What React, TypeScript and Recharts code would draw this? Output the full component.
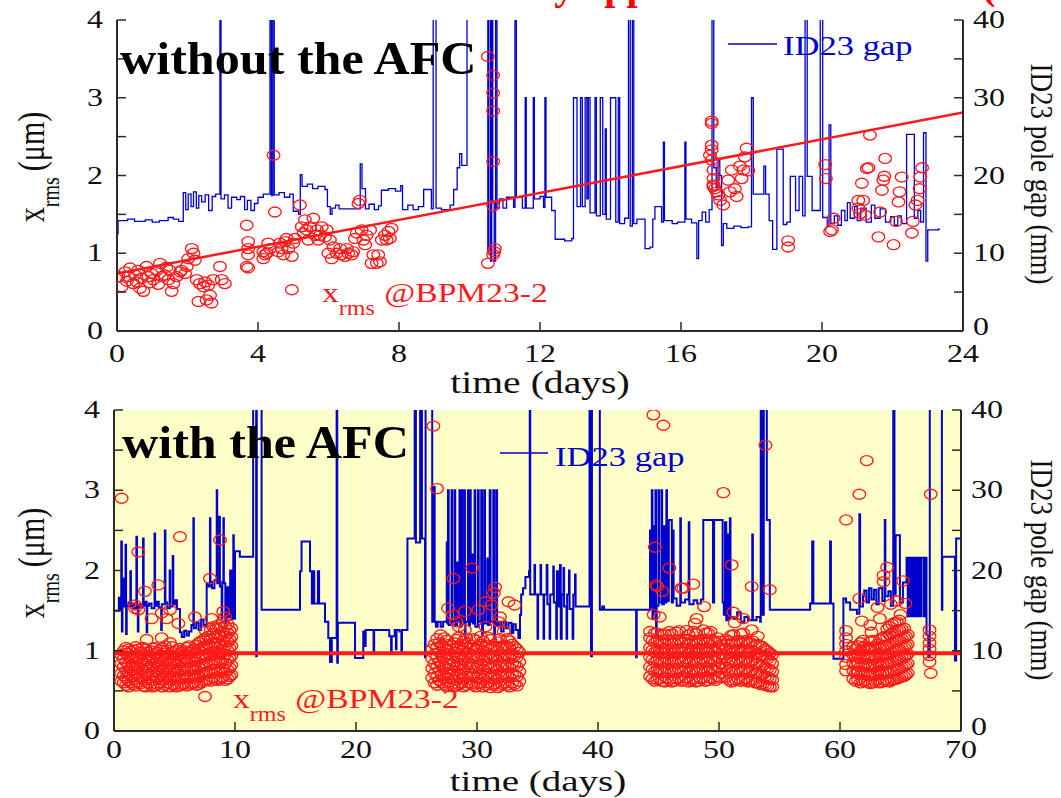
import React from 'react';
import { ComposedChart, Line, Scatter, XAxis, YAxis, CartesianGrid } from 'recharts';

const FONT = "'Liberation Serif', 'Times New Roman', serif";
const AXIS = '#2b2b2b';
const BLUE = '#0000cd';
const RED = '#ff1a1a';

// ---------- axis ticks ----------
const topXTicks = [0, 4, 8, 12, 16, 20, 24];
const bottomXTicks = [0, 10, 20, 30, 40, 50, 60, 70];
const leftTicks = [0, 0.5, 1, 1.5, 2, 2.5, 3, 3.5, 4];
const rightTicks = [0, 5, 10, 15, 20, 25, 30, 35, 40];

// ---------- top panel (without AFC), days 0..24 ----------
// ID23 gap (mm), step changes [day, gap]
const topGapSteps: [number, number][] = [
  [0, 12.5], [0.03, 14.2], [0.3, 14.4], [0.5, 14.1], [0.8, 14.3], [1.0, 14.0], [1.2, 14.2], [1.45, 14.6], [1.6, 14.4], [1.75, 14.1],
  [1.88, 17.8], [1.95, 15.6], [2.02, 17.6], [2.1, 16.0], [2.17, 17.9], [2.25, 15.8], [2.32, 17.4], [2.4, 16.6], [2.5, 17.5], [2.6, 15.5],
  [2.7, 17.3], [2.8, 17.6], [2.92, 45], [2.95, 17.0], [3.05, 17.5], [3.15, 15.8], [3.25, 17.2], [3.4, 16.9], [3.5, 17.3], [3.62, 15.6],
  [3.7, 16.8], [3.8, 15.5], [3.9, 16.4], [4.0, 17.2], [4.15, 17.6], [4.34, 45], [4.38, 17.4], [4.42, 45], [4.46, 17.5], [4.6, 17.8],
  [4.75, 17.2], [4.9, 17.6], [5.0, 15.4], [5.15, 15.0], [5.2, 20.1], [5.25, 18.6], [5.4, 18.9], [5.55, 18.3], [5.7, 18.6], [5.9, 18.2],
  [5.97, 16.0], [6.05, 15.0], [6.1, 15.8], [6.2, 16.2], [6.3, 15.7], [6.85, 15.7], [6.9, 21.5], [6.95, 18.3], [7.05, 15.7], [7.15, 16.3],
  [7.3, 15.6], [7.42, 16.1], [7.5, 18.1], [7.7, 18.3], [7.9, 18.0], [8.05, 18.7], [8.1, 15.6], [8.25, 16.2], [8.4, 15.6], [8.55, 16.0],
  [8.7, 18.2], [8.92, 15.7], [8.97, 45], [9.05, 15.8], [9.2, 15.6], [9.45, 16.2], [9.55, 18.2], [9.65, 21.0], [9.72, 22.8], [9.78, 21.3],
  [9.93, 45], [10.52, 10.0], [10.55, 45], [10.6, 9.0], [10.63, 45], [10.66, 16.5], [10.7, 9.0], [10.74, 45], [10.78, 15.8], [10.85, 17.0],
  [10.95, 15.8], [11.05, 17.2], [11.25, 15.9], [11.29, 45], [11.33, 17.2], [11.5, 15.8], [11.58, 30], [11.61, 15.8], [11.81, 30], [11.84, 17.0],
  [12.0, 17.3], [12.1, 15.9], [12.14, 30], [12.17, 17.2], [12.33, 15.5], [12.43, 11.8], [12.7, 11.6], [12.9, 11.9], [12.95, 30], [13.05, 16.0],
  [13.15, 30], [13.2, 16.0], [13.28, 30], [13.33, 17.0], [13.37, 30], [13.42, 15.2], [13.56, 30], [13.6, 14.8], [13.71, 30], [13.78, 15.0],
  [13.85, 26], [13.88, 14.4], [14.0, 30], [14.15, 14.0], [14.22, 30], [14.26, 13.8], [14.4, 14.5], [14.51, 45], [14.56, 13.5], [14.62, 45],
  [14.66, 13.8], [14.75, 14.4], [14.98, 10.6], [15.12, 10.8], [15.2, 14.4], [15.26, 16.0], [15.35, 16.0], [15.45, 14.0], [15.5, 24.3], [15.53, 14.2],
  [15.75, 13.8], [15.9, 14.0], [16.11, 24.3], [16.14, 14.4], [16.3, 13.9], [16.45, 9.3], [16.5, 14.2], [16.6, 15.3], [16.7, 14.0], [16.8, 15.6],
  [16.88, 45], [16.93, 21.0], [17.0, 18.5], [17.05, 22.0], [17.1, 20.0], [17.15, 11.0], [17.2, 13.8], [17.3, 13.2], [17.5, 13.5], [17.7, 13.3],
  [17.9, 13.4], [18.0, 30], [18.05, 17.6], [18.3, 17.6], [18.35, 21.2], [18.4, 17.6], [18.5, 14.2], [18.6, 10.5], [18.72, 23.4], [18.9, 13.7],
  [19.0, 14.0], [19.1, 19.9], [19.25, 15.5], [19.35, 19.9], [19.45, 14.8], [19.52, 45], [19.58, 19.9], [19.72, 15.5], [19.95, 45], [20.02, 14.6],
  [20.15, 13.5], [20.2, 26.5], [20.25, 13.8], [20.35, 14.8], [20.45, 13.6], [20.55, 15.5], [20.65, 14.2], [20.72, 16.5], [20.8, 14.5], [20.92, 16.0],
  [21.0, 14.2], [21.1, 15.8], [21.25, 14.0], [21.4, 16.2], [21.5, 14.5], [21.65, 15.7], [21.8, 14.0], [21.95, 14.7], [22.05, 13.6], [22.15, 14.8],
  [22.25, 13.8], [22.4, 25.3], [22.62, 14.5], [22.72, 15.5], [22.8, 14.0], [22.88, 25.5], [22.95, 9.0], [23.0, 13.0], [23.3, 13.1], [23.35, 13.1],
];

// x_rms @BPM23-2 (um) without AFC [day, value]
const topRms: [number, number][] = [
  [0.04, 0.70], [0.13, 0.57], [0.23, 0.76], [0.28, 0.64], [0.32, 0.70], [0.37, 0.81], [0.46, 0.61], [0.51, 0.72], [0.56, 0.63], [0.60, 0.78],
  [0.65, 0.55], [0.70, 0.68], [0.75, 0.51], [0.84, 0.83], [0.89, 0.70], [0.93, 0.62], [0.98, 0.74], [1.03, 0.66], [1.13, 0.78], [1.17, 0.60],
  [1.22, 0.87], [1.27, 0.70], [1.36, 0.72], [1.40, 0.82], [1.46, 0.66], [1.50, 0.78], [1.55, 0.51], [1.60, 0.61], [1.69, 0.70], [1.79, 0.76],
  [1.83, 0.78], [1.93, 0.74], [1.98, 0.83], [2.02, 0.93], [2.12, 1.06], [2.17, 1.00], [2.21, 0.91], [2.26, 0.66], [2.31, 0.38], [2.35, 0.61],
  [2.45, 0.57], [2.50, 0.63], [2.54, 0.40], [2.59, 0.59], [2.64, 0.46], [2.68, 0.36], [2.73, 0.66], [2.92, 0.83], [2.97, 0.66], [3.06, 0.61],
  [3.68, 1.36], [3.72, 1.15], [3.72, 1.06], [3.72, 0.98], [3.68, 0.83], [3.72, 0.81], [4.15, 1.02], [4.15, 0.93], [4.20, 0.98], [4.25, 1.00],
  [4.29, 1.13], [4.34, 1.06], [4.44, 2.26], [4.48, 1.53], [4.58, 1.02], [4.62, 1.13], [4.67, 1.06], [4.72, 0.98], [4.77, 1.15], [4.81, 1.19],
  [4.86, 1.06], [4.96, 0.96], [4.96, 0.53], [5.00, 1.13], [5.05, 1.19], [5.19, 1.62], [5.24, 1.34], [5.29, 1.26], [5.33, 1.43], [5.38, 1.30],
  [5.43, 1.17], [5.48, 1.34], [5.57, 1.45], [5.62, 1.23], [5.67, 1.30], [5.71, 1.17], [5.76, 1.23], [5.81, 1.34], [5.90, 1.21], [5.95, 1.30],
  [6.00, 1.00], [6.04, 1.17], [6.09, 0.93], [6.14, 1.08], [6.23, 1.00], [6.33, 1.06], [6.37, 0.98], [6.47, 0.96], [6.52, 1.06], [6.56, 1.00],
  [6.66, 0.98], [6.70, 1.02], [6.75, 1.19], [6.80, 1.26], [6.85, 1.64], [6.89, 1.68], [6.94, 1.30], [6.99, 1.17], [7.04, 1.11], [7.08, 1.23],
  [7.18, 1.30], [7.22, 0.87], [7.27, 0.98], [7.37, 0.87], [7.41, 0.98], [7.46, 0.89], [7.51, 1.17], [7.60, 1.23], [7.65, 1.17], [7.70, 1.28],
  [7.74, 1.19], [7.79, 1.32],
  [10.52, 3.53], [10.67, 3.29], [10.67, 3.06], [10.67, 2.83], [10.67, 2.18], [10.67, 1.61], [10.72, 1.06], [10.70, 1.02], [10.67, 0.98], [10.52, 0.87],
  [16.87, 2.70], [16.87, 2.67], [16.87, 2.39], [16.87, 2.33], [16.82, 2.26], [16.87, 2.20], [16.92, 2.07], [16.92, 1.96], [16.92, 1.88], [16.96, 1.83],
  [17.01, 1.79], [16.92, 1.86], [17.06, 1.75], [17.11, 1.68], [17.20, 1.62], [17.39, 1.79], [17.34, 1.94], [17.44, 2.07], [17.53, 1.83], [17.58, 1.73],
  [17.67, 2.12], [17.72, 1.96], [17.77, 2.07], [17.81, 2.24], [17.86, 2.35], [17.91, 2.06],
  [19.04, 1.16], [19.04, 1.08],
  [20.09, 2.14], [20.11, 1.96], [20.23, 1.28], [20.28, 1.30], [20.33, 1.45],
  [21.03, 1.68], [21.03, 1.58], [21.08, 1.51], [21.13, 1.90], [21.17, 1.68], [21.22, 1.49], [21.27, 2.09], [21.32, 2.10], [21.36, 2.52], [21.60, 1.21],
  [21.65, 1.53], [21.70, 1.81], [21.74, 1.94], [21.79, 2.22], [21.77, 1.99], [22.03, 1.11], [22.10, 1.41], [22.17, 1.66], [22.20, 1.79], [22.26, 1.98],
  [22.55, 1.26], [22.58, 1.41], [22.65, 1.62], [22.71, 1.68], [22.77, 1.83], [22.79, 1.98], [22.84, 2.10],
];

// linear fit of x_rms without AFC
const topFit: [number, number][] = [[0, 0.74], [24, 2.81]];

// ---------- bottom panel (with AFC), days 0..70 ----------
const afcGapSteps: [number, number][] = [
  [0, 15.0], [0.4, 16.6], [0.5, 15.1], [0.6, 23.6], [0.65, 12.4], [0.7, 17.5], [0.8, 19.0], [0.85, 15.5], [0.95, 23.2], [1.0, 12.1],
  [1.05, 15.6], [1.2, 16.0], [1.35, 19.9], [1.4, 15.5], [1.55, 15.9], [1.65, 15.3], [1.85, 24.2], [1.9, 15.6], [1.97, 12.4], [2.02, 15.8],
  [2.2, 15.4], [2.4, 24.0], [2.45, 15.6], [2.6, 16.1], [2.7, 12.3], [2.75, 15.6], [2.9, 15.9], [3.1, 15.3], [3.35, 24.6], [3.4, 15.6],
  [3.55, 16.1], [3.7, 15.4], [3.9, 12.6], [3.95, 15.8], [4.2, 25.0], [4.25, 16.0], [4.4, 15.3], [4.6, 20.0], [4.65, 15.5], [4.85, 21.8],
  [4.9, 15.8], [5.05, 16.3], [5.2, 15.2], [5.45, 12.3], [5.6, 11.7], [5.8, 12.5], [6.0, 11.9], [6.2, 12.4], [6.4, 13.2], [6.56, 26.5],
  [6.6, 12.8], [6.8, 13.5], [7.0, 12.6], [7.2, 13.9], [7.4, 13.2], [7.66, 18.4], [7.8, 18.0], [7.93, 26.5], [7.97, 18.6], [8.1, 17.8],
  [8.3, 18.8], [8.49, 30.0], [8.53, 18.4], [8.7, 26.7], [8.75, 18.0], [8.9, 14.0], [8.95, 18.6], [9.04, 26.5], [9.08, 18.4], [9.2, 13.5],
  [9.3, 17.9], [9.45, 14.2], [9.6, 20.0], [9.75, 14.0], [9.86, 24.4], [9.9, 14.0], [10.0, 22.4], [10.4, 21.7], [11.5, 45], [11.75, 9.3],
  [11.8, 45], [12.2, 15.1], [15.37, 19.9], [15.5, 23.6], [16.2, 19.9], [16.35, 15.9], [16.45, 19.9], [16.55, 15.9], [16.85, 19.9], [16.95, 15.9],
  [17.44, 13.6], [17.71, 11.6], [17.85, 8.6], [18.0, 11.6], [18.4, 45], [18.45, 8.5], [18.5, 13.5], [19.85, 13.5], [19.92, 9.1], [20.6, 12.4],
  [20.75, 10.6], [20.8, 12.6], [21.3, 12.6], [21.45, 9.7], [21.5, 12.6], [22.75, 11.8], [22.9, 9.6], [22.95, 11.8], [23.2, 12.6], [23.3, 10.2],
  [23.35, 12.6], [23.6, 12.4], [23.75, 9.6], [23.8, 12.6], [24.25, 24.0], [24.85, 45], [24.95, 23.5], [25.3, 45], [25.45, 24.0], [25.7, 9.2],
  [25.75, 45], [26.3, 13.6], [26.45, 30.4], [26.5, 13.6], [26.6, 13.0], [26.75, 13.6], [27.0, 13.0], [27.2, 13.6], [27.5, 23.5], [27.55, 13.4],
  [27.6, 30], [27.66, 13.2], [27.9, 30], [27.95, 13.6], [28.15, 30], [28.2, 13.2], [28.35, 21.0], [28.4, 13.6], [28.55, 30], [28.62, 13.0],
  [28.72, 30], [28.78, 13.4], [28.95, 30], [29.0, 11.5], [29.05, 13.6], [29.25, 30], [29.32, 13.2], [29.42, 30], [29.48, 13.6], [29.62, 22.0],
  [29.68, 13.4], [29.8, 30], [29.86, 13.0], [30.08, 30], [30.14, 13.6], [30.35, 30], [30.42, 12.0], [30.5, 13.6], [30.6, 30], [30.66, 13.4],
  [30.85, 21.5], [30.9, 13.2], [31.05, 30], [31.12, 13.6], [31.35, 30], [31.42, 11.5], [31.48, 13.6], [31.6, 30], [31.66, 13.2], [31.8, 13.6],
  [32.0, 12.4], [32.2, 13.6], [32.4, 12.8], [32.6, 13.5], [32.85, 12.2], [33.0, 13.3], [33.2, 12.6], [33.42, 11.6], [33.55, 14.5], [33.65, 17.0],
  [33.8, 17.8], [34.0, 19.2], [34.3, 19.9], [34.36, 45], [34.4, 17.0], [34.6, 17.0], [34.75, 20.7], [34.8, 17.0], [35.0, 11.5], [35.05, 17.0],
  [35.25, 20.7], [35.3, 17.0], [35.5, 11.5], [35.55, 17.0], [35.76, 20.7], [35.82, 15.8], [36.0, 11.5], [36.05, 17.0], [36.3, 20.5], [36.35, 16.0],
  [36.55, 11.5], [36.6, 19.9], [36.75, 15.5], [36.86, 20.7], [36.92, 11.5], [37.0, 17.0], [37.15, 20.3], [37.2, 15.5], [37.4, 11.5], [37.45, 17.0],
  [37.6, 20.0], [37.65, 15.2], [37.9, 11.5], [37.96, 17.0], [38.1, 19.5], [38.15, 15.5], [38.51, 15.5], [39.3, 45], [39.42, 9.3], [39.5, 45],
  [40.15, 15.1], [40.35, 15.5], [40.5, 15.1], [43.15, 9.2], [43.2, 15.1], [44.3, 25.0], [44.35, 15.5], [44.45, 30], [44.5, 14.0], [44.6, 25.5],
  [44.65, 15.0], [44.75, 30], [44.8, 11.6], [44.85, 15.6], [45.0, 30], [45.05, 16.0], [45.25, 30], [45.3, 15.8], [45.45, 25.5], [45.55, 16.0],
  [45.65, 30], [45.7, 16.2], [45.85, 26.3], [46.1, 16.0], [46.2, 25.0], [46.25, 16.5], [46.5, 15.6], [46.8, 26.5], [46.85, 16.0], [47.2, 16.4],
  [47.5, 26.0], [47.55, 15.8], [47.9, 16.3], [48.2, 15.9], [48.5, 16.4], [48.7, 26.3], [49.5, 16.0], [49.6, 26.3], [50.3, 16.0], [50.4, 14.5],
  [50.5, 26.0], [50.6, 13.8], [50.7, 24.5], [50.75, 14.0], [50.9, 26.5], [50.95, 14.2], [51.2, 14.0], [51.5, 14.8], [51.8, 13.6], [52.1, 14.2],
  [52.4, 13.8], [52.75, 24.5], [52.8, 13.8], [53.1, 14.2], [53.4, 13.6], [53.45, 45], [53.55, 14.5], [53.7, 45], [53.95, 26.3], [54.2, 15.1],
  [57.53, 15.9], [57.7, 23.6], [57.8, 15.9], [59.18, 23.6], [59.25, 15.9], [59.46, 9.0], [60.28, 16.5], [60.5, 16.0], [60.84, 15.1], [61.4, 14.6],
  [61.6, 27.0], [61.66, 15.5], [61.9, 16.8], [62.0, 17.5], [62.2, 16.0], [62.4, 17.8], [62.6, 16.4], [62.8, 17.6], [63.0, 15.8], [63.2, 17.8],
  [63.5, 16.2], [63.7, 26.3], [63.75, 16.8], [64.0, 17.4], [64.2, 15.6], [64.4, 45], [64.5, 17.0], [64.6, 24.4], [64.95, 16.0], [65.2, 18.5],
  [65.5, 21.6], [65.6, 14.3], [65.7, 21.6], [65.85, 14.3], [65.95, 21.6], [66.1, 14.3], [66.2, 21.6], [66.35, 14.3], [66.45, 21.6], [66.6, 14.3],
  [66.7, 21.6], [66.9, 14.3], [67.0, 21.6], [67.15, 12.0], [67.3, 9.2], [67.42, 45], [68.42, 15.1], [68.46, 21.7], [69.5, 8.8], [69.6, 24.0],
  [70, 24.0],
];

// dense x_rms clouds with AFC: [day, values read at that day]
const afcRmsColumns: [number, number[]][] = [
  [0.6, [0.62, 0.72, 0.84, 0.95]], [0.8, [0.60, 0.69, 0.80, 0.90, 1.00]], [1.0, [0.57, 0.66, 0.75, 0.86, 0.97, 1.04]],
  [1.2, [0.55, 0.63, 0.73, 0.83, 0.93, 1.02]], [1.4, [0.60, 0.70, 0.79, 0.90, 0.99]], [1.6, [0.58, 0.68, 0.81, 0.92, 1.01]],
  [1.8, [0.56, 0.65, 0.76, 0.85, 0.94, 1.05]], [2.0, [0.61, 0.71, 0.81, 0.91, 1.02]], [2.2, [0.59, 0.68, 0.78, 0.88, 0.98]],
  [2.4, [0.56, 0.66, 0.76, 0.86, 0.96, 1.04]], [2.6, [0.55, 0.64, 0.74, 0.83, 0.93, 1.02]], [2.8, [0.60, 0.71, 0.79, 0.88, 0.98]],
  [3.0, [0.58, 0.69, 0.80, 0.90, 1.00]], [3.2, [0.55, 0.63, 0.73, 0.83, 0.93, 1.03]], [3.4, [0.56, 0.66, 0.75, 0.85, 0.96, 1.04]],
  [3.6, [0.58, 0.68, 0.78, 0.88, 0.98]], [3.8, [0.60, 0.70, 0.81, 0.91, 1.01]], [4.0, [0.55, 0.64, 0.74, 0.84, 0.94, 1.03]],
  [4.2, [0.57, 0.67, 0.77, 0.87, 0.97, 1.06]], [4.4, [0.60, 0.70, 0.80, 0.91, 1.01]], [4.6, [0.55, 0.64, 0.74, 0.84, 0.95]],
  [4.8, [0.57, 0.67, 0.77, 0.87, 0.98, 1.05]], [5.0, [0.58, 0.68, 0.79, 0.89, 0.99]], [5.2, [0.55, 0.63, 0.73, 0.83, 0.94, 1.01]],
  [5.4, [0.56, 0.65, 0.76, 0.86, 0.96, 1.03]], [5.6, [0.58, 0.68, 0.78, 0.88, 0.98]], [5.8, [0.59, 0.70, 0.80, 0.90, 1.00]],
  [6.0, [0.56, 0.65, 0.75, 0.85, 0.95, 1.04]], [6.2, [0.57, 0.67, 0.78, 0.88, 0.98, 1.06]], [6.4, [0.59, 0.69, 0.79, 0.90, 1.00]],
  [6.6, [0.60, 0.70, 0.81, 0.92, 1.02]], [6.8, [0.57, 0.66, 0.76, 0.86, 0.97, 1.07]], [7.0, [0.58, 0.68, 0.79, 0.90, 1.01, 1.10]],
  [7.2, [0.60, 0.70, 0.81, 0.92, 1.03, 1.12]], [7.4, [0.62, 0.72, 0.83, 0.94, 1.05, 1.14]], [7.6, [0.63, 0.73, 0.84, 0.95, 1.06, 1.16, 1.24]],
  [7.8, [0.64, 0.74, 0.86, 0.97, 1.08, 1.18]], [8.0, [0.62, 0.72, 0.83, 0.94, 1.04, 1.15, 1.26]], [8.2, [0.66, 0.77, 0.88, 0.99, 1.10, 1.21, 1.30]],
  [8.4, [0.64, 0.73, 0.84, 0.95, 1.05, 1.16, 1.27]], [8.6, [0.63, 0.75, 0.87, 0.98, 1.09, 1.20, 1.32]], [8.8, [0.65, 0.76, 0.86, 0.96, 1.07, 1.18, 1.29]],
  [9.0, [0.67, 0.78, 0.90, 1.01, 1.12, 1.24, 1.36]], [9.2, [0.63, 0.73, 0.84, 0.95, 1.06, 1.18, 1.30]], [9.4, [0.65, 0.76, 0.88, 1.00, 1.11, 1.22, 1.33]],
  [9.55, [0.68, 0.79, 0.91, 1.03, 1.14, 1.25]], [9.7, [0.70, 0.82, 0.94, 1.06, 1.17, 1.28]],

  [26.3, [0.66, 0.78, 0.90, 1.02]], [26.5, [0.60, 0.72, 0.84, 0.96, 1.08]], [26.7, [0.57, 0.68, 0.80, 0.92, 1.04, 1.15]],
  [26.9, [0.63, 0.75, 0.86, 0.98, 1.10]], [27.1, [0.60, 0.71, 0.83, 0.95, 1.07]], [27.3, [0.58, 0.69, 0.80, 0.92, 1.04, 1.16]],
  [27.5, [0.55, 0.66, 0.77, 0.89, 1.01, 1.13]], [27.7, [0.61, 0.72, 0.84, 0.96, 1.08]], [27.9, [0.58, 0.70, 0.82, 0.94, 1.06]],
  [28.1, [0.55, 0.64, 0.75, 0.86, 0.98, 1.10]], [28.3, [0.56, 0.67, 0.79, 0.91, 1.03, 1.14]], [28.5, [0.58, 0.70, 0.82, 0.93, 1.05, 1.17]],
  [28.7, [0.60, 0.72, 0.84, 0.96, 1.08]], [28.9, [0.55, 0.65, 0.77, 0.89, 1.01, 1.12]], [29.1, [0.57, 0.68, 0.80, 0.92, 1.04, 1.16]],
  [29.3, [0.60, 0.72, 0.84, 0.97, 1.09]], [29.5, [0.59, 0.71, 0.83, 0.95, 1.07]], [29.7, [0.57, 0.68, 0.80, 0.92, 1.04, 1.15]],
  [29.9, [0.55, 0.66, 0.78, 0.90, 1.02, 1.13]], [30.1, [0.59, 0.70, 0.81, 0.93, 1.05]], [30.3, [0.60, 0.72, 0.84, 0.96, 1.08, 1.18]],
  [30.5, [0.55, 0.65, 0.77, 0.88, 1.00, 1.12]], [30.7, [0.57, 0.68, 0.80, 0.92, 1.04]], [30.9, [0.60, 0.71, 0.83, 0.95, 1.07, 1.17]],
  [31.1, [0.54, 0.66, 0.78, 0.90, 1.02, 1.14]], [31.3, [0.57, 0.69, 0.81, 0.93, 1.05]], [31.5, [0.59, 0.70, 0.82, 0.94, 1.06]],
  [31.7, [0.54, 0.65, 0.76, 0.88, 1.00, 1.11]], [31.9, [0.56, 0.68, 0.80, 0.92, 1.04, 1.15]], [32.1, [0.58, 0.70, 0.82, 0.94, 1.06]],
  [32.3, [0.60, 0.71, 0.83, 0.95, 1.07]], [32.5, [0.57, 0.69, 0.81, 0.93, 1.05, 1.15]], [32.7, [0.55, 0.67, 0.79, 0.91, 1.03, 1.12]],
  [32.9, [0.60, 0.72, 0.84, 0.96, 1.08]], [33.1, [0.58, 0.70, 0.82, 0.94, 1.05]], [33.3, [0.56, 0.68, 0.80, 0.92, 1.02]],
  [33.5, [0.62, 0.74, 0.86, 0.98]],

  [44.3, [0.68, 0.80, 0.92, 1.04, 1.16]], [44.5, [0.65, 0.77, 0.89, 1.01, 1.13]], [44.7, [0.62, 0.74, 0.86, 0.98, 1.10, 1.22]],
  [44.9, [0.64, 0.76, 0.88, 1.00, 1.12, 1.22]], [45.1, [0.65, 0.77, 0.89, 1.01, 1.13]], [45.3, [0.62, 0.74, 0.86, 0.98, 1.10, 1.20]],
  [45.5, [0.61, 0.73, 0.85, 0.97, 1.09, 1.21]], [45.7, [0.66, 0.78, 0.90, 1.02, 1.14]], [45.9, [0.64, 0.76, 0.88, 1.00, 1.12, 1.24]],
  [46.1, [0.61, 0.73, 0.85, 0.97, 1.09, 1.21]], [46.3, [0.62, 0.74, 0.86, 0.98, 1.10]], [46.5, [0.65, 0.77, 0.89, 1.01, 1.13, 1.23]],
  [46.7, [0.66, 0.78, 0.90, 1.02, 1.14, 1.25]], [46.9, [0.62, 0.74, 0.86, 0.98, 1.10]], [47.1, [0.63, 0.75, 0.87, 0.99, 1.11]],
  [47.3, [0.66, 0.78, 0.90, 1.02, 1.14, 1.25]], [47.5, [0.61, 0.73, 0.85, 0.97, 1.09, 1.20]], [47.7, [0.63, 0.75, 0.87, 0.99, 1.11]],
  [47.9, [0.65, 0.77, 0.89, 1.01, 1.13, 1.24]], [48.1, [0.61, 0.73, 0.85, 0.97, 1.09, 1.21]], [48.3, [0.62, 0.74, 0.86, 0.98, 1.10]],
  [48.5, [0.65, 0.77, 0.89, 1.01, 1.13]], [48.7, [0.66, 0.78, 0.90, 1.02, 1.14, 1.26]], [48.9, [0.62, 0.74, 0.86, 0.98, 1.10, 1.22]],
  [49.1, [0.63, 0.75, 0.87, 0.99, 1.11, 1.22]], [49.3, [0.66, 0.78, 0.90, 1.02, 1.14, 1.24]], [49.5, [0.65, 0.77, 0.89, 1.01, 1.13]],
  [49.7, [0.63, 0.75, 0.87, 0.99, 1.11]], [49.9, [0.68, 0.80, 0.92, 1.04, 1.16]], [50.05, [0.66, 0.78, 0.90, 1.02, 1.12]],
  [50.2, [0.72, 0.84, 0.96, 1.08]], [50.6, [0.67, 0.79, 0.91, 1.03, 1.14]], [50.8, [0.64, 0.76, 0.88, 1.00, 1.12]],
  [51.0, [0.61, 0.73, 0.85, 0.97, 1.09, 1.19]], [51.2, [0.62, 0.74, 0.86, 0.98, 1.10, 1.20]], [51.4, [0.64, 0.76, 0.88, 1.00, 1.12]],
  [51.6, [0.65, 0.77, 0.89, 1.01, 1.13]], [51.8, [0.62, 0.74, 0.86, 0.98, 1.10, 1.21]], [52.0, [0.63, 0.75, 0.87, 0.99, 1.11, 1.22]],
  [52.2, [0.65, 0.77, 0.89, 1.01, 1.13]], [52.4, [0.61, 0.73, 0.85, 0.97, 1.09]], [52.6, [0.62, 0.74, 0.86, 0.98, 1.10]],
  [52.8, [0.64, 0.76, 0.88, 1.00, 1.12]], [53.0, [0.60, 0.72, 0.84, 0.96, 1.07]], [53.2, [0.60, 0.72, 0.84, 0.96, 1.08]],
  [53.4, [0.58, 0.70, 0.82, 0.94, 1.06]], [53.6, [0.58, 0.70, 0.82, 0.94, 1.05]], [53.8, [0.57, 0.68, 0.79, 0.91, 1.02]],
  [54.0, [0.56, 0.67, 0.78, 0.90, 1.00]], [54.2, [0.55, 0.65, 0.76, 0.87, 0.97]], [54.4, [0.55, 0.64, 0.74, 0.84, 0.95]],

  [60.5, [0.75, 0.83, 0.92, 1.00, 1.08, 1.16, 1.25]], [61.1, [0.65, 0.75, 0.85, 0.95, 1.05]], [61.3, [0.62, 0.72, 0.82, 0.92, 1.02]],
  [61.5, [0.64, 0.74, 0.85, 0.96, 1.06]], [61.7, [0.60, 0.70, 0.80, 0.90, 1.00, 1.10]], [61.9, [0.62, 0.72, 0.82, 0.93, 1.04, 1.13]],
  [62.1, [0.63, 0.73, 0.84, 0.95, 1.06]], [62.3, [0.61, 0.71, 0.82, 0.93, 1.04]], [62.5, [0.59, 0.69, 0.80, 0.91, 1.02, 1.12]],
  [62.7, [0.60, 0.70, 0.81, 0.92, 1.03, 1.13]], [62.9, [0.62, 0.72, 0.83, 0.94, 1.05]], [63.1, [0.64, 0.75, 0.86, 0.97, 1.08]],
  [63.3, [0.60, 0.70, 0.81, 0.92, 1.03, 1.14]], [63.5, [0.61, 0.72, 0.83, 0.94, 1.05, 1.16]], [63.7, [0.63, 0.74, 0.85, 0.96, 1.07, 1.18]],
  [63.9, [0.62, 0.73, 0.84, 0.95, 1.06, 1.17, 1.27]], [64.1, [0.61, 0.72, 0.84, 0.96, 1.08, 1.20, 1.30]], [64.3, [0.63, 0.74, 0.86, 0.98, 1.10, 1.22, 1.33]],
  [64.5, [0.64, 0.76, 0.88, 1.00, 1.12, 1.24, 1.35]], [64.7, [0.65, 0.77, 0.89, 1.01, 1.13, 1.25, 1.36]], [64.9, [0.66, 0.78, 0.90, 1.02, 1.14, 1.26, 1.38]],
  [65.1, [0.67, 0.79, 0.91, 1.03, 1.15, 1.27]], [65.3, [0.68, 0.80, 0.92, 1.04, 1.16, 1.28]], [65.45, [0.70, 0.82, 0.94, 1.06, 1.18]],
  [65.6, [0.72, 0.84, 0.96, 1.08, 1.20]], [67.4, [0.86, 0.94, 1.02, 1.10, 1.18, 1.26]],
];

// isolated x_rms points with AFC [day, value]
const afcRmsOutliers: [number, number][] = [
  [0.63, 2.90], [2.01, 2.23], [5.45, 2.42], [3.66, 1.82], [2.56, 1.74], [1.74, 1.57], [1.74, 1.53], [2.01, 1.51], [3.11, 1.40], [3.94, 1.47],
  [4.35, 1.40], [4.63, 1.51], [5.32, 1.34], [6.69, 1.42], [7.93, 1.90], [8.76, 2.38], [2.70, 1.14], [3.94, 1.16], [4.63, 1.10], [7.52, 0.43],
  [8.07, 1.40], [9.03, 1.49], [9.17, 1.42],
  [26.4, 3.80], [26.7, 3.02], [28.05, 1.90], [29.6, 2.03], [31.5, 1.79], [32.6, 1.61], [33.1, 1.57], [27.6, 1.53], [28.0, 1.45], [29.0, 1.49],
  [30.1, 1.51], [30.7, 1.61], [31.2, 1.57], [31.4, 1.72], [31.9, 1.42], [31.8, 1.36], [28.3, 1.36], [28.5, 1.30], [29.0, 1.26], [27.0, 1.20],
  [30.7, 1.30], [32.2, 1.24],
  [44.58, 3.94], [45.4, 3.81], [44.7, 2.29], [45.9, 2.03], [44.8, 1.82], [44.9, 1.80], [45.3, 1.74], [46.9, 1.78], [44.6, 1.45], [45.1, 1.42],
  [44.3, 1.24], [50.36, 2.97], [53.84, 3.56], [51.05, 2.07], [52.7, 1.80], [54.2, 1.76], [47.88, 1.83], [47.05, 1.78], [48.77, 1.55], [48.15, 1.40],
  [51.18, 1.48], [51.3, 1.35], [52.0, 1.40], [48.0, 1.34], [52.7, 1.26], [53.2, 1.18],
  [62.21, 3.37], [61.6, 2.95], [60.5, 2.63], [67.5, 2.95], [63.9, 2.04], [65.2, 1.87], [63.6, 1.94], [63.6, 1.86], [61.6, 1.65], [63.1, 1.54],
  [64.2, 1.58], [64.7, 1.62], [65.4, 1.59], [65.0, 1.45], [61.8, 1.37], [62.5, 1.32], [63.3, 1.40], [62.6, 1.23], [67.5, 0.72],
];

const afcFit: [number, number][] = [[0, 0.97], [70, 0.97]];

// ---------- build series objects ----------
const gapPts = (a: [number, number][]) => a.map(([d, g]) => ({ d, g }));
const valPts = (a: [number, number][]) => a.map(([d, v]) => ({ d, v }));
const colPts = (a: [number, number[]][]) => a.flatMap(([d, vs]) => vs.map((v) => ({ d, v })));

const topGapData = gapPts(topGapSteps);
const topRmsData = valPts(topRms);
const topFitData = valPts(topFit);
const afcGapData = gapPts(afcGapSteps);
const afcRmsData = [...colPts(afcRmsColumns), ...valPts(afcRmsOutliers)];
const afcFitData = valPts(afcFit);

// ---------- tick renderers ----------
const TICK_LEN = 9;
const labelProps = { fontSize: 25, fontFamily: FONT, fill: '#111' };

const makeBottomTick = (offset: number) => (props: any) => {
  const { x, y, payload } = props;
  return (
    <g>
      <line x1={x} x2={x} y1={y} y2={y - TICK_LEN} stroke={AXIS} strokeWidth={1.5} />
      <text transform={`translate(${x},${y + offset}) scale(1.28,1)`} textAnchor="middle" {...labelProps}>{payload.value}</text>
    </g>
  );
};
const topTick = (props: any) => {
  const { x, y } = props;
  return <line x1={x} x2={x} y1={y} y2={y + TICK_LEN} stroke={AXIS} strokeWidth={1.5} />;
};
const leftTick = (props: any) => {
  const { x, y, payload } = props;
  const v = payload.value;
  return (
    <g>
      <line x1={x} x2={x + TICK_LEN} y1={y} y2={y} stroke={AXIS} strokeWidth={1.5} />
      {Number.isInteger(v) ? (
        <text transform={`translate(${x - 14},${y + 8}) scale(1.28,1)`} textAnchor="end" {...labelProps}>{v}</text>
      ) : null}
    </g>
  );
};
const rightTick = (props: any) => {
  const { x, y, payload } = props;
  const v = payload.value;
  return (
    <g>
      <line x1={x} x2={x - TICK_LEN} y1={y} y2={y} stroke={AXIS} strokeWidth={1.5} />
      {v % 10 === 0 ? (
        <text transform={`translate(${x + 10},${y + (v === 0 ? 4 : 8)}) scale(1.28,1)`} textAnchor="start" {...labelProps}>{v}</text>
      ) : null}
    </g>
  );
};

const ring = (props: any) => (
  <ellipse cx={props.cx} cy={props.cy} rx={6.3} ry={5} fill="none" stroke={RED} strokeWidth={1.35} />
);

const axisLine = { stroke: AXIS, strokeWidth: 2 };

function Panel(props: {
  top: number; height: number; marginTop: number; leftW: number; rightW: number; labelOffset: number;
  xMax: number; xTicks: number[]; gap: any[]; rms: any[]; fit: any[]; fitWidth: number; gapWidth: number; bg?: string;
}) {
  const { top, height, marginTop, leftW, rightW, labelOffset, xMax, xTicks, gap, rms, fit, fitWidth, gapWidth, bg } = props;
  return (
    <div style={{ position: 'absolute', left: 0, top }}>
      <ComposedChart width={1061} height={height} margin={{ top: marginTop, right: 0, bottom: 0, left: 0 }}>
        {bg ? (
          <CartesianGrid xAxisId="b" yAxisId="l" horizontal={false} vertical={false} fill={bg} fillOpacity={1} stroke="none" />
        ) : null}
        <XAxis xAxisId="b" dataKey="d" type="number" domain={[0, xMax]} ticks={xTicks} interval={0} orientation="bottom"
          height={67} tickSize={0} tickMargin={0} tickLine={false} axisLine={axisLine} tick={makeBottomTick(labelOffset)} allowDataOverflow />
        <XAxis xAxisId="t" dataKey="d" type="number" domain={[0, xMax]} ticks={xTicks} interval={0} orientation="top"
          height={0} tickSize={0} tickMargin={0} tickLine={false} axisLine={axisLine} tick={topTick} allowDataOverflow />
        <YAxis yAxisId="l" type="number" domain={[0, 4]} ticks={leftTicks} interval={0} width={leftW}
          tickSize={0} tickMargin={0} tickLine={false} axisLine={axisLine} tick={leftTick} allowDataOverflow />
        <YAxis yAxisId="r" orientation="right" type="number" domain={[0, 40]} ticks={rightTicks} interval={0} width={rightW}
          tickSize={0} tickMargin={0} tickLine={false} axisLine={axisLine} tick={rightTick} allowDataOverflow />
        <Line xAxisId="b" yAxisId="r" data={gap} dataKey="g" type="stepAfter" stroke={BLUE} strokeWidth={gapWidth}
          dot={false} activeDot={false} isAnimationActive={false} />
        <Scatter xAxisId="b" yAxisId="l" data={rms} dataKey="v" shape={ring} isAnimationActive={false} />
        <Line xAxisId="b" yAxisId="l" data={fit} dataKey="v" type="linear" stroke={RED} strokeWidth={fitWidth}
          dot={false} activeDot={false} isAnimationActive={false} />
      </ComposedChart>
    </div>
  );
}

export default function App() {
  return (
    <div style={{ position: 'absolute', left: 0, top: 0, width: 1061, height: 798, background: '#fff', overflow: 'hidden' }}>
      <Panel top={0} height={398} marginTop={20} leftW={117} rightW={98} labelOffset={31} xMax={24} xTicks={topXTicks}
        gap={topGapData} rms={topRmsData} fit={topFitData} fitWidth={2.5} gapWidth={1.3} />
      <Panel top={380} height={418} marginTop={30} leftW={114} rightW={100} labelOffset={27} xMax={70} xTicks={bottomXTicks}
        gap={afcGapData} rms={afcRmsData} fit={afcFitData} fitWidth={4} gapWidth={2} bg="#fefec8" />
      <svg width={1061} height={798} style={{ position: 'absolute', left: 0, top: 0, pointerEvents: 'none' }}>
        <g fontFamily={FONT}>
          <text x={532} y={-1} fontSize={40} fontWeight="bold" fill="#ff0000">by application of the AFC (ID23)</text>

          <text transform="translate(120,74) scale(1.09,1)" fontSize={46} fontWeight="bold" fill="#000">without the AFC</text>
          <text transform="translate(122,458) scale(1.09,1)" fontSize={46} fontWeight="bold" fill="#000">with the AFC</text>

          <line x1={728} x2={777} y1={44} y2={44} stroke={BLUE} strokeWidth={1.5} />
          <text transform="translate(783,55) scale(1.28,1)" fontSize={27} fill={BLUE}>ID23 gap</text>
          <line x1={500} x2={548} y1={453} y2={453} stroke={BLUE} strokeWidth={1.5} />
          <text transform="translate(555,466) scale(1.28,1)" fontSize={27} fill={BLUE}>ID23 gap</text>

          <text transform="translate(322,302) scale(1.2,1)" fontSize={28} fill={RED}>
            x<tspan fontSize={20} dy={13}>rms</tspan><tspan fontSize={28} dy={-13} dx={8}>@BPM23-2</tspan>
          </text>
          <text transform="translate(233,708) scale(1.2,1)" fontSize={28} fill={RED}>
            x<tspan fontSize={20} dy={13}>rms</tspan><tspan fontSize={28} dy={-13} dx={8}>@BPM23-2</tspan>
          </text>

          <text transform="translate(540,393) scale(1.28,1)" fontSize={31} textAnchor="middle" fill="#111">time (days)</text>
          <text transform="translate(538,791) scale(1.3,1)" fontSize={30} textAnchor="middle" fill="#111">time (days)</text>

          <text transform="translate(44,167) rotate(-90) scale(1,1.28)" fontSize={30} textAnchor="middle" fill="#111">
            x<tspan fontSize={20} dy={12}>rms</tspan><tspan fontSize={30} dy={-12} dx={6}>(μm)</tspan>
          </text>
          <text transform="translate(44,563) rotate(-90) scale(1,1.28)" fontSize={30} textAnchor="middle" fill="#111">
            x<tspan fontSize={20} dy={12}>rms</tspan><tspan fontSize={30} dy={-12} dx={6}>(μm)</tspan>
          </text>

          <text transform="translate(1031,174) rotate(90) scale(1,1.2)" fontSize={27} textAnchor="middle" fill="#111">ID23 pole gap (mm)</text>
          <text transform="translate(1031,570) rotate(90) scale(1,1.2)" fontSize={27} textAnchor="middle" fill="#111">ID23 pole gap (mm)</text>
        </g>
      </svg>
    </div>
  );
}
